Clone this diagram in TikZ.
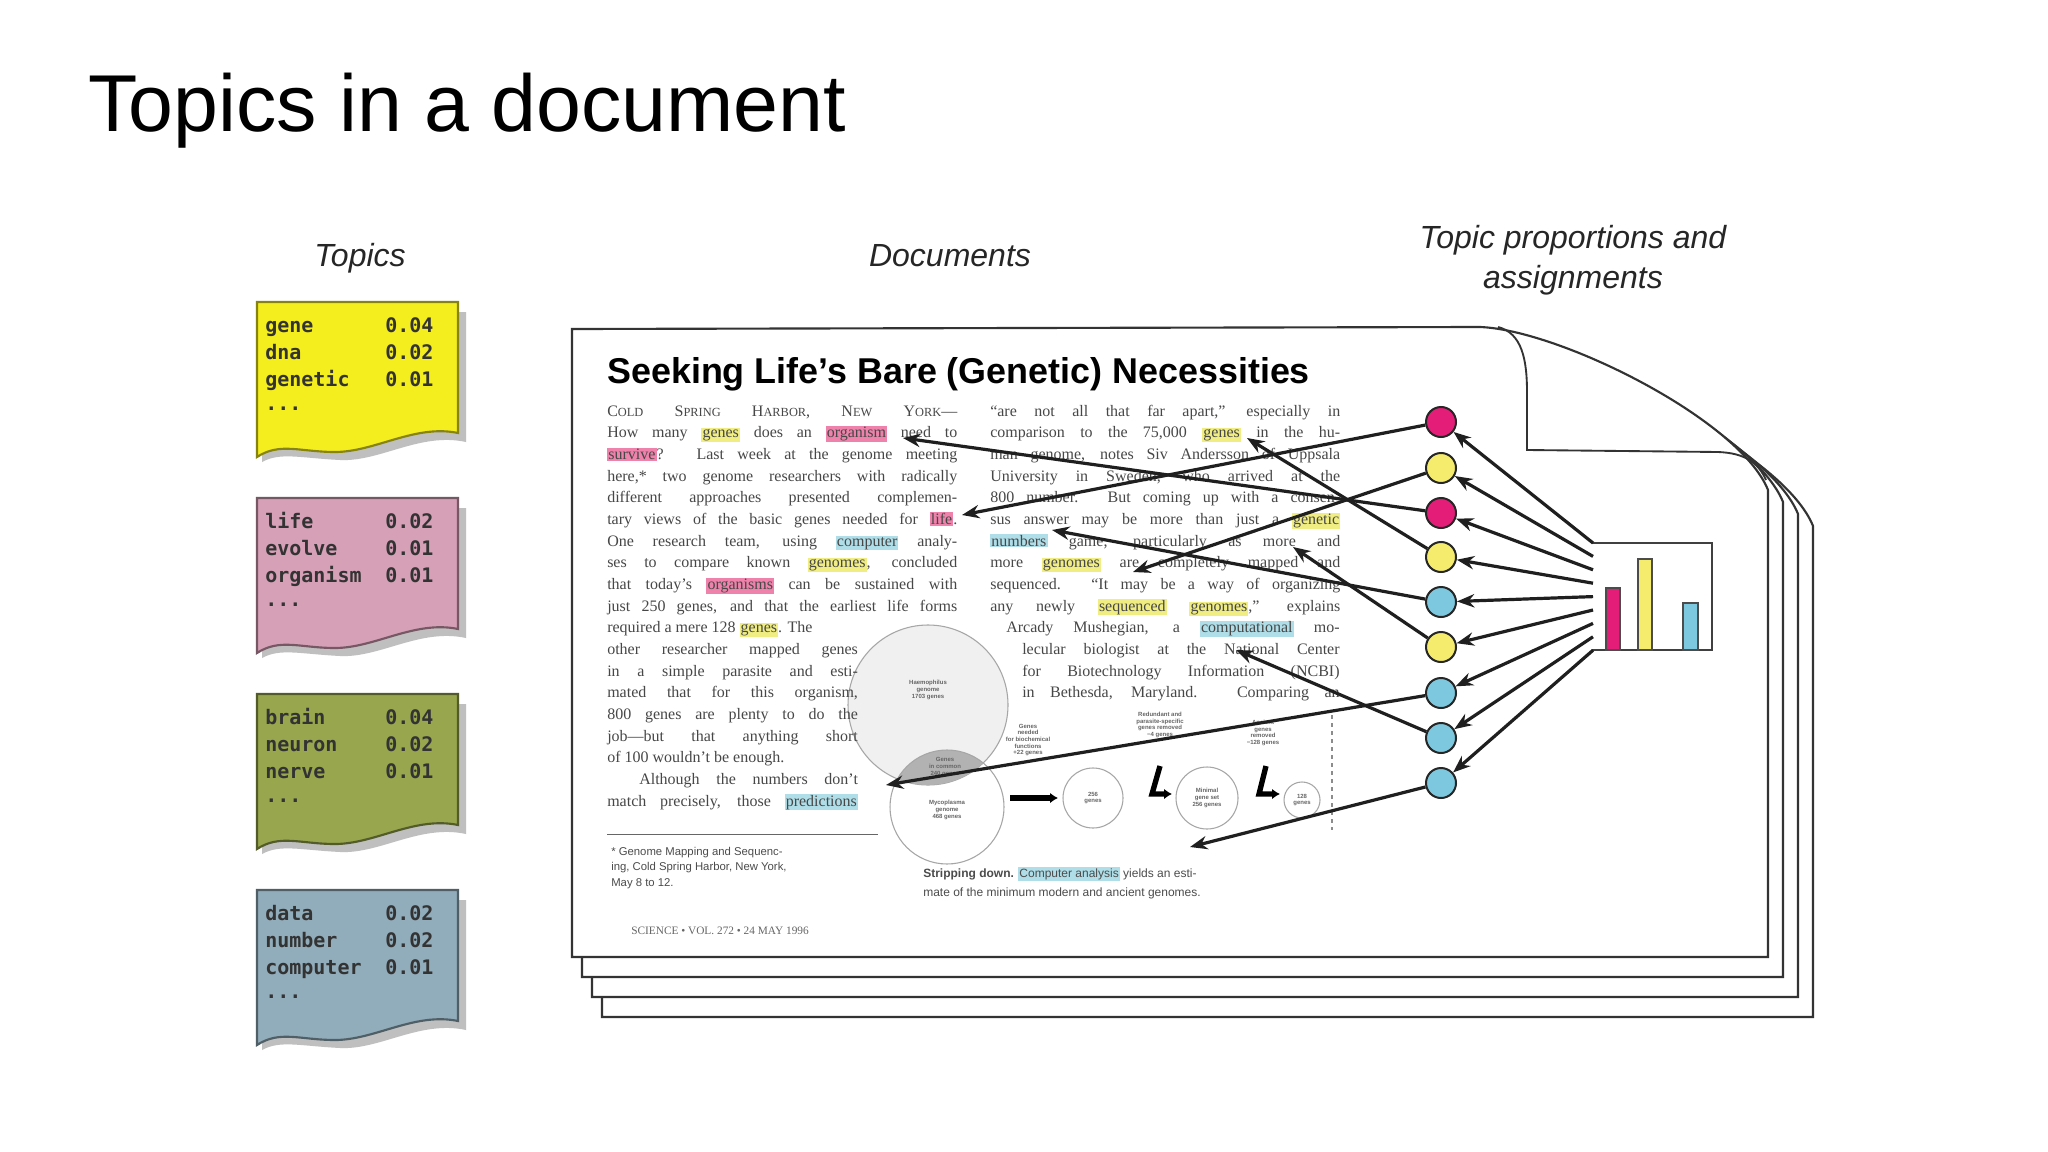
\documentclass[tikz,border=0pt]{standalone}
\usepackage{fontspec}
\setmainfont{Liberation Serif}
\setsansfont{Liberation Sans}
\setmonofont{DejaVu Sans Mono}
\usetikzlibrary{arrows.meta}
\definecolor{hly}{RGB}{240,238,130}
\definecolor{hlm}{RGB}{238,130,170}
\definecolor{hlc}{RGB}{175,222,232}
\definecolor{cmag}{RGB}{228,30,120}
\definecolor{cyel}{RGB}{245,236,110}
\definecolor{ccya}{RGB}{125,200,222}
\definecolor{tyel}{RGB}{245,238,30}
\definecolor{tpink}{RGB}{214,160,182}
\definecolor{tgreen}{RGB}{152,166,78}
\definecolor{tblue}{RGB}{145,172,186}
\newcommand\hy[1]{{\setlength{\fboxsep}{0.8pt}\colorbox{hly}{#1}}}
\newcommand\hm[1]{{\setlength{\fboxsep}{0.8pt}\colorbox{hlm}{#1}}}
\newcommand\hc[1]{{\setlength{\fboxsep}{0.8pt}\colorbox{hlc}{#1}}}
\newcommand\jline[2]{\hbox to #1{#2}}
\begin{document}
\begin{tikzpicture}[x=0.75pt,y=-0.75pt,
  txt/.style={anchor=base west,inner sep=0pt,text=black!72,font=\fontsize{12}{14}\selectfont},
  lbl/.style={inner sep=0pt,text=black!85,font=\sffamily\itshape\fontsize{24}{28}\selectfont},
  tword/.style={anchor=base west,inner sep=0pt,text=black!80,font=\ttfamily\bfseries\fontsize{15}{18}\selectfont},
  page/.style={draw=black!80,line width=1.6pt,fill=white},
  dot/.style={circle,draw=black!85,line width=1.5pt,minimum size=30pt*0.75,inner sep=0pt},
  arr/.style={draw=black!88,line width=2.4pt,-{Stealth[length=13pt,width=10pt]}},
  tiny/.style={inner sep=0pt,align=center,text=black!60,font=\sffamily\bfseries\fontsize{4.5}{5}\selectfont},
  figc/.style={draw=black!35,line width=0.8pt}]
\useasboundingbox (0,0) rectangle (2048,1152);
\fill[white] (0,0) rectangle (2048,1152);
% title and labels
\node[anchor=base west,inner sep=0pt,font=\sffamily\fontsize{60.5}{70}\selectfont] (title) at (88,132) {Topics in a document};
\node[lbl,anchor=base] (ltopics) at (360,266) {Topics};
\node[lbl,anchor=base] (ldocs) at (950,266) {Documents};
\node[lbl,anchor=base] (lprop1) at (1573,248) {Topic proportions and};
\node[lbl,anchor=base] (lprop2) at (1573,288) {assignments};
% topic boxes
\foreach \y/\c/\wa/\wb/\wc/\na/\nb/\nc/\nm in {302/tyel/gene/dna/genetic/0.04/0.02/0.01/ty,
  498/tpink/life/evolve/organism/0.02/0.01/0.01/tp,
  694/tgreen/brain/neuron/nerve/0.04/0.02/0.01/tg,
  890/tblue/data/number/computer/0.02/0.02/0.01/tb}{
  \begin{scope}[yshift=-\y*0.75pt]
  \fill[black!25] (262,10) -- (466,10) -- (466,140) .. controls (420,130) and (380,160) .. (340,158) .. controls (300,156) and (280,150) .. (262,160) -- cycle;
  \filldraw[fill=\c,draw=\c!55!black,line width=1.6pt] (257,0) -- (458,0) -- (458,131) .. controls (415,122) and (375,150) .. (335,150) .. controls (300,150) and (280,140) .. (257,155) -- cycle;
  \node[tword] (\nm a) at (265,30) {\wa};
  \node[tword] (\nm b) at (265,57) {\wb};
  \node[tword] (\nm c) at (265,84) {\wc};
  \node[tword] (\nm d) at (265,108) {...};
  \node[tword] (\nm e) at (385,30) {\na};
  \node[tword] (\nm f) at (385,57) {\nb};
  \node[tword] (\nm g) at (385,84) {\nc};
  \end{scope}}
% pages
\foreach \k in {3,2,1}{
  \draw[page] ({572+10*\k},{329+20*\k}) -- ({1480+15*\k},{327+12*\k}) .. controls ({1560+15*\k},{330+12*\k}) and ({1740+15*\k},{420+12*\k}) .. ({1768+15*\k},{490+12*\k}) -- ({1768+15*\k},{957+20*\k}) -- ({572+10*\k},{957+20*\k}) -- cycle;}
\draw[page] (572,329) -- (1480,327) .. controls (1560,330) and (1740,420) .. (1768,490) -- (1768,957) -- (572,957) -- cycle;
\draw[black!80,line width=1.4pt] (1498,327) .. controls (1522,333) and (1527,360) .. (1527,392) -- (1527,450) -- (1718,452) .. controls (1744,453) and (1758,462) .. (1766,480);
% small figure (behind text)
\fill[black!6] (928,705) circle[radius=80];
\draw[figc] (928,705) circle[radius=80];
\begin{scope}
  \clip (928,705) circle[radius=80];
  \fill[black!30] (947,807) circle[radius=57];
\end{scope}
\draw[figc] (947,807) circle[radius=57];
\node[tiny] (fh) at (928,690) {Haemophilus\\genome\\1703 genes};
\node[tiny] (fi) at (945,767) {Genes\\in common\\240 genes};
\node[tiny] (fm) at (947,810) {Mycoplasma\\genome\\468 genes};
\draw[figc] (1093,798) circle[radius=30];
\node[tiny] (f1) at (1093,798) {256\\genes};
\draw[figc] (1207,798) circle[radius=31];
\node[tiny] (f2) at (1207,798) {Minimal\\gene set\\256 genes};
\draw[figc] (1302,800) circle[radius=18];
\node[tiny] (f3) at (1302,800) {128\\genes};
\node[tiny] (fa) at (1028,740) {Genes\\needed\\for biochemical\\functions\\+22 genes};
\node[tiny] (fb) at (1160,725) {Redundant and\\parasite-specific\\genes removed\\−4 genes};
\node[tiny] (fc) at (1263,733) {Ancient\\genes\\removed\\−128 genes};
\draw[black,line width=4pt,-{Latex[length=6pt,width=8pt]}] (1010,798) -- (1058,798);
\draw[black,line width=4pt,-{Latex[length=6pt,width=8pt]}] (1160,766) -- (1152,794) -- (1172,794);
\draw[black,line width=4pt,-{Latex[length=6pt,width=8pt]}] (1266,766) -- (1259,794) -- (1280,794);
\draw[black!45,dashed,line width=0.8pt] (1332,715) -- (1332,830);
% heading
\node[anchor=base west,inner sep=0pt] (head) at (607,383) {\resizebox{527pt}{!}{\sffamily\bfseries Seeking Life’s Bare (Genetic) Necessities}};
% left column
\def\cw{262.5pt}
\def\sw{188pt}
\node[txt] (L1) at (607,416.0) {\jline{\cw}{C{\fontsize{9.3}{10}\selectfont OLD} S{\fontsize{9.3}{10}\selectfont PRING} H{\fontsize{9.3}{10}\selectfont ARBOR}, N{\fontsize{9.3}{10}\selectfont EW} Y{\fontsize{9.3}{10}\selectfont ORK}—}};
\node[txt] (L2) at (607,437.7) {\jline{\cw}{How many \hy{genes} does an \hm{organism} need to}};
\node[txt] (L3) at (607,459.3) {\jline{\cw}{\hm{survive}? Last week at the genome meeting}};
\node[txt] (L4) at (607,481.0) {\jline{\cw}{here,* two genome researchers with radically}};
\node[txt] (L5) at (607,502.7) {\jline{\cw}{different approaches presented complemen-}};
\node[txt] (L6) at (607,524.3) {\jline{\cw}{tary views of the basic genes needed for \hm{life}.}};
\node[txt] (L7) at (607,546.0) {\jline{\cw}{One research team, using \hc{computer} analy-}};
\node[txt] (L8) at (607,567.7) {\jline{\cw}{ses to compare known \hy{genomes}, concluded}};
\node[txt] (L9) at (607,589.3) {\jline{\cw}{that today’s \hm{organisms} can be sustained with}};
\node[txt] (L10) at (607,611.0) {\jline{\cw}{just 250 genes, and that the earliest life forms}};
\node[txt] (L11) at (607,632.7) {required a mere 128 \hy{genes}. The};
\node[txt] (L12) at (607,654.3) {\jline{\sw}{other researcher mapped genes}};
\node[txt] (L13) at (607,676.0) {\jline{\sw}{in a simple parasite and esti-}};
\node[txt] (L14) at (607,697.7) {\jline{\sw}{mated that for this organism,}};
\node[txt] (L15) at (607,719.3) {\jline{\sw}{800 genes are plenty to do the}};
\node[txt] (L16) at (607,741.0) {\jline{\sw}{job—but that anything short}};
\node[txt] (L17) at (607,762.7) {of 100 wouldn’t be enough.};
\node[txt] (L18) at (607,784.3) {\jline{\sw}{\hskip 2em Although the numbers don’t}};
\node[txt] (L19) at (607,806.0) {\jline{\sw}{match precisely, those \hc{predictions}}};
% right column
\node[txt] (R1) at (990,416.0) {\jline{\cw}{“are not all that far apart,” especially in}};
\node[txt] (R2) at (990,437.7) {\jline{\cw}{comparison to the 75,000 \hy{genes} in the hu-}};
\node[txt] (R3) at (990,459.3) {\jline{\cw}{man genome, notes Siv Andersson of Uppsala}};
\node[txt] (R4) at (990,481.0) {\jline{\cw}{University in Sweden, who arrived at the}};
\node[txt] (R5) at (990,502.7) {\jline{\cw}{800 number. But coming up with a consen-}};
\node[txt] (R6) at (990,524.3) {\jline{\cw}{sus answer may be more than just a \hy{genetic}}};
\node[txt] (R7) at (990,546.0) {\jline{\cw}{\hc{numbers} game, particularly as more and}};
\node[txt] (R8) at (990,567.7) {\jline{\cw}{more \hy{genomes} are completely mapped and}};
\node[txt] (R9) at (990,589.3) {\jline{\cw}{sequenced. “It may be a way of organizing}};
\node[txt] (R10) at (990,611.0) {\jline{\cw}{any newly \hy{sequenced} \hy{genomes},” explains}};
\node[txt] (R11) at (1006,632.7) {\jline{250pt}{Arcady Mushegian, a \hc{computational} mo-}};
\node[txt] (R12) at (1022,654.3) {\jline{238pt}{lecular biologist at the National Center}};
\node[txt] (R13) at (1022,676.0) {\jline{238pt}{for Biotechnology Information (NCBI)}};
\node[txt] (R14) at (1022,697.7) {\jline{238pt}{in Bethesda, Maryland. Comparing an}};
% footnote, caption, footer
\draw[black!60,line width=0.6pt] (607,834) -- (878,834);
\node[anchor=north west,inner sep=0pt,align=left,text=black!70,font=\sffamily\fontsize{8.5}{11.5}\selectfont] (foot) at (611,847) {* Genome Mapping and Sequenc-\\ing, Cold Spring Harbor, New York,\\May 8 to 12.};
\node[anchor=base west,inner sep=0pt,text=black!70,font=\sffamily\fontsize{9}{11}\selectfont] (cap1) at (923,877) {\textbf{Stripping down.} \hc{Computer analysis} yields an esti-};
\node[anchor=base west,inner sep=0pt,text=black!70,font=\sffamily\fontsize{9}{11}\selectfont] (cap2) at (923,896) {mate of the minimum modern and ancient genomes.};
\node[anchor=base west,inner sep=0pt,text=black!60,font=\fontsize{8.5}{10}\selectfont] (sci) at (631,934) {SCIENCE \textbullet{} VOL. 272 \textbullet{} 24 MAY 1996};
% bar chart
\draw[black!75,line width=1.4pt] (1592,543) -- (1712,543) -- (1712,650) -- (1592,650);
\filldraw[fill=cmag,draw=black!70,line width=1pt] (1606,650) rectangle (1620,588);
\filldraw[fill=cyel,draw=black!70,line width=1pt] (1638,650) rectangle (1652,559);
\filldraw[fill=ccya,draw=black!70,line width=1pt] (1683,650) rectangle (1698,603);
% topic assignment circles
\foreach \i/\yy/\cc in {1/422/cmag,2/468/cyel,3/513/cmag,4/557/cyel,5/602/ccya,6/647/cyel,7/693/ccya,8/738/ccya,9/783/ccya}{
  \coordinate (s\i) at (1593,{543+(\i-1)*13.4});
  \node[dot,fill=\cc] (c\i) at (1441,\yy) {};
}
\foreach \i in {1,...,9}{ \draw[arr] (s\i) -- (c\i); }
% word targets
\coordinate (t1) at (962,515);
\coordinate (t2) at (1133,572);
\coordinate (t3) at (903,438);
\coordinate (t4) at (1247,438);
\coordinate (t5) at (1052,530);
\coordinate (t6) at (1293,547);
\coordinate (t7) at (886,785);
\coordinate (t8) at (1236,650);
\coordinate (t9) at (1190,847);
\foreach \i in {1,...,9}{ \draw[arr] (c\i) -- (t\i); }
\end{tikzpicture}
\end{document}
